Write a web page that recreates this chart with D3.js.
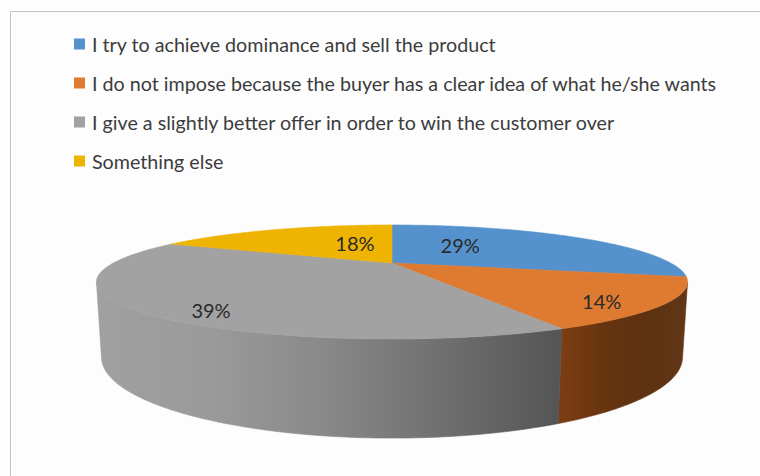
<!DOCTYPE html>
<html>
<head>
<meta charset="utf-8">
<script src="https://cdn.jsdelivr.net/npm/d3@7"></script>
<style>
  html, body { margin: 0; padding: 0; background: #fff; }
  svg { display: block; }
  text { font-family: Lato, "Open Sans", "DejaVu Sans", sans-serif; }
</style>
</head>
<body>
<script>
// Survey answers, one slice each, clockwise from 12 o'clock
const categories = [
  "I try to achieve dominance and sell the product",
  "I do not impose because the buyer has a clear idea of what he/she wants",
  "I give a slightly better offer in order to win the customer over",
  "Something else"
];
const shares = [29, 14, 39, 18];
const labelTexts = shares.map(d => d + "%");
const sliceColors = ["#5592cd", "#df7b31", "#a2a2a2", "#efb302"];

// Side-wall shading (left to right across the visible rim)
const wallStops = [
  ["#a0a0a0", "#9a9a9a", "#888888", "#6f6f6f", "#545454"],
  ["#7c3d13", "#66340f", "#5d3211", "#623717"]
];

// Where each percentage sits on the top face: radius fraction, angle (deg)
const labelSpots = [
  { r: 0.49, a: 34.5 },
  { r: 0.85, a: 134.9 },
  { r: 0.865, a: 215.0 },
  { r: 0.48, a: 341.4 }
];

const W = 760, H = 476;
const svg = d3.select("body").append("svg")
  .attr("width", W).attr("height", H)
  .attr("viewBox", [0, 0, W, H]);

svg.append("rect").attr("width", W).attr("height", H).attr("fill", "#fdfdfd");

// Chart-area frame: only the top and left edges fall inside the view
svg.append("path")
  .attr("d", "M10.5,476 V11.5 H760")
  .attr("fill", "none")
  .attr("stroke", "#c4c4c4")
  .attr("stroke-width", 1);

// ---- Legend ----
const legend = svg.append("g").attr("transform", "translate(74,44)");
const legendStep = 39;
const item = legend.selectAll("g").data(categories).join("g")
  .attr("transform", (d, i) => `translate(0,${i * legendStep})`);
item.append("rect")
  .attr("x", 0).attr("y", -5.5).attr("width", 11).attr("height", 11)
  .attr("fill", (d, i) => sliceColors[i]);
item.append("text")
  .attr("x", 18).attr("y", 0)
  .attr("dominant-baseline", "central")
  .attr("font-size", 19.7)
  .attr("fill", "#3c3c3c")
  .text(d => d);

// ---- 3-D pie with a perspective camera ----
const cam = {
  cx: 392, cy: 263,   // screen position of the pie centre
  F: 822,             // focal scale in pixels per unit radius
  D: 2.95,            // camera distance (pie radius = 1)
  elev: 10.48 * Math.PI / 180,
  thick: 0.251        // slab thickness (pie radius = 1)
};
const ce = Math.cos(cam.elev), se = Math.sin(cam.elev);

// World: X right, Y away from viewer, Z up; theta clockwise from the back
function project(r, theta, z) {
  const X = r * Math.sin(theta), Y = r * Math.cos(theta);
  const depth = cam.D + Y * ce - z * se;
  return [cam.cx + cam.F * X / depth, cam.cy - cam.F * (Y * se + z * ce) / depth];
}

const pie = d3.pie().sort(null).value(d => d).startAngle(0).endAngle(2 * Math.PI);
const arcs = pie(shares);

function arcPoints(a0, a1, z) {
  const n = Math.max(2, Math.ceil((a1 - a0) / (Math.PI / 180)));
  return d3.range(n + 1).map(k => project(1, a0 + (a1 - a0) * k / n, z));
}

const line = d3.line();

// Visible part of the outer wall faces the camera
const vis0 = Math.acos(-1 / (cam.D * ce));
const vis1 = 2 * Math.PI - vis0;

const defs = svg.append("defs");

const walls = svg.append("g");
arcs.forEach((a, i) => {
  const s = Math.max(a.startAngle, vis0), e = Math.min(a.endAngle, vis1);
  if (e <= s) return;
  const top = arcPoints(s, e, 0);
  const bot = arcPoints(s, e, -cam.thick).reverse();
  const ptsX = top.map(p => p[0]);
  const gx0 = d3.min(ptsX), gx1 = d3.max(ptsX);
  const stops = wallStops[i === 2 ? 0 : 1];
  const gid = "wall" + i;
  const g = defs.append("linearGradient").attr("id", gid)
    .attr("gradientUnits", "userSpaceOnUse")
    .attr("x1", gx0).attr("x2", gx1).attr("y1", 0).attr("y2", 0);
  g.selectAll("stop").data(stops).join("stop")
    .attr("offset", (d, k) => k / (stops.length - 1))
    .attr("stop-color", d => d);
  walls.append("path")
    .attr("d", line(top.concat(bot)) + "Z")
    .attr("fill", `url(#${gid})`)
    .attr("stroke", `url(#${gid})`)
    .attr("stroke-width", 0.6);
});

// Top faces
const center = project(0, 0, 0);
svg.append("g").selectAll("path").data(arcs).join("path")
  .attr("d", a => line([center].concat(arcPoints(a.startAngle, a.endAngle, 0))) + "Z")
  .attr("fill", (a, i) => sliceColors[i])
  .attr("stroke", (a, i) => sliceColors[i])
  .attr("stroke-width", 0.6);

// Percentage labels
svg.append("g").selectAll("text").data(arcs).join("text")
  .attr("transform", (a, i) => {
    const p = project(labelSpots[i].r, labelSpots[i].a * Math.PI / 180, 0);
    return `translate(${p[0]},${p[1]})`;
  })
  .attr("text-anchor", "middle")
  .attr("dominant-baseline", "central")
  .attr("font-size", 20)
  .attr("fill", "#2a2a2a")
  .text((a, i) => labelTexts[i]);
</script>
</body>
</html>
